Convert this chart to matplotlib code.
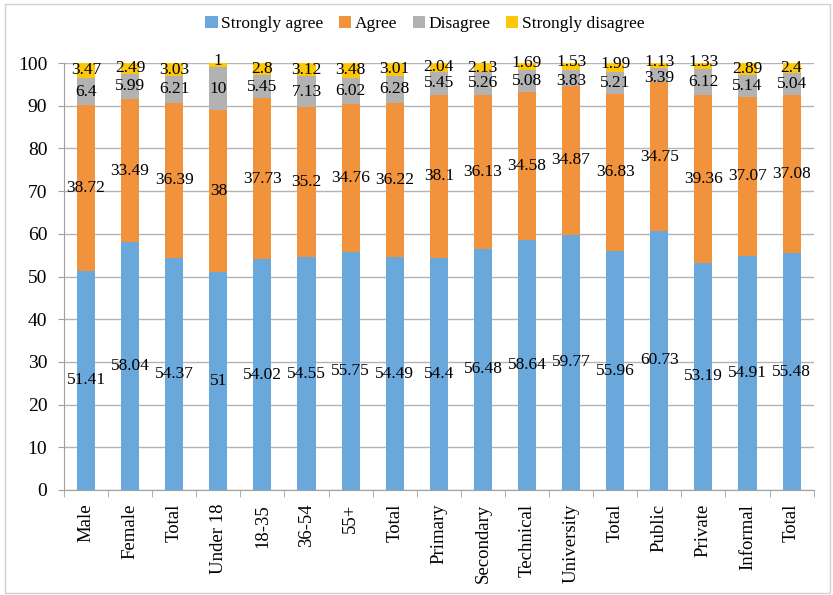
"""Stacked bar chart of agreement levels by group."""
import numpy as np
import matplotlib
matplotlib.use('Agg')
import matplotlib.pyplot as plt

categories = ['Male', 'Female', 'Total', 'Under 18', '18-35', '36-54', '55+', 'Total',
              'Primary', 'Secondary', 'Technical', 'University', 'Total',
              'Public', 'Private', 'Informal', 'Total']

strongly_agree = [51.41, 58.04, 54.37, 51, 54.02, 54.55, 55.75, 54.49,
                  54.4, 56.48, 58.64, 59.77, 55.96, 60.73, 53.19, 54.91, 55.48]
agree = [38.72, 33.49, 36.39, 38, 37.73, 35.2, 34.76, 36.22,
         38.1, 36.13, 34.58, 34.87, 36.83, 34.75, 39.36, 37.07, 37.08]
disagree = [6.4, 5.99, 6.21, 10, 5.45, 7.13, 6.02, 6.28,
            5.45, 5.26, 5.08, 3.83, 5.21, 3.39, 6.12, 5.14, 5.04]
strongly_disagree = [3.47, 2.49, 3.03, 1, 2.8, 3.12, 3.48, 3.01,
                     2.04, 2.13, 1.69, 1.53, 1.99, 1.13, 1.33, 2.89, 2.4]

series_names = ['Strongly agree', 'Agree', 'Disagree', 'Strongly disagree']
colors = ['#6aa8dc', '#f1923d', '#b2b2b2', '#ffc70a']

plt.rcParams['font.family'] = ['Liberation Serif', 'DejaVu Serif']

fig = plt.figure(figsize=(8.33, 5.95), dpi=100)
ax = fig.add_axes([0.0768, 0.1765, 0.9, 0.7175])

x = np.arange(len(categories))
bottom = np.zeros(len(categories))
all_series = [strongly_agree, agree, disagree, strongly_disagree]
for k, (name, vals, col) in enumerate(zip(series_names, all_series, colors)):
    vals = np.array(vals, dtype=float)
    ax.bar(x, vals, width=0.41, bottom=bottom, color=col, label=name, zorder=2)
    for xi, b, v in zip(x, bottom, vals):
        y = b + v / 2
        # keep the crowded labels at the top of the bars apart a little
        if k == 3 and v < 2:
            y += 0.9
        elif k == 2 and v < 4:
            y -= 0.7
        ax.text(xi, y, f'{v:g}', ha='center', va='center',
                fontsize=12.5, color='black', zorder=3)
    bottom += vals

ax.set_xlim(-0.5, len(categories) - 0.5)
ax.set_ylim(0, 100)
ax.set_yticks(range(0, 101, 10))
ax.tick_params(axis='y', labelsize=14, length=4, color='#a0a0a0', pad=8)
ax.set_xticks(x)
ax.set_xticklabels(categories, rotation=90, fontsize=13.5)
ax.tick_params(axis='x', length=0, pad=10)
ax.set_xticks(np.arange(-0.5, len(categories)), minor=True)
ax.tick_params(axis='x', which='minor', length=5, color='#a0a0a0')

ax.yaxis.grid(True, color='#b4b4b4', linewidth=1, zorder=0)
ax.set_axisbelow(True)
for side in ['top', 'right']:
    ax.spines[side].set_visible(False)
for side in ['left', 'bottom']:
    ax.spines[side].set_color('#a0a0a0')

fig.legend(loc='center', bbox_to_anchor=(0.51, 0.96), ncol=4, frameon=False,
           fontsize=12.5, handlelength=0.7, handleheight=0.7,
           handletextpad=0.2, columnspacing=0.9)

# light border around the whole figure
fig.patches.append(plt.Rectangle((0.006, 0.004), 0.99, 0.99, transform=fig.transFigure,
                                 fill=False, edgecolor='#d0d0d0', linewidth=1))

fig.savefig('out.png', dpi=100)
